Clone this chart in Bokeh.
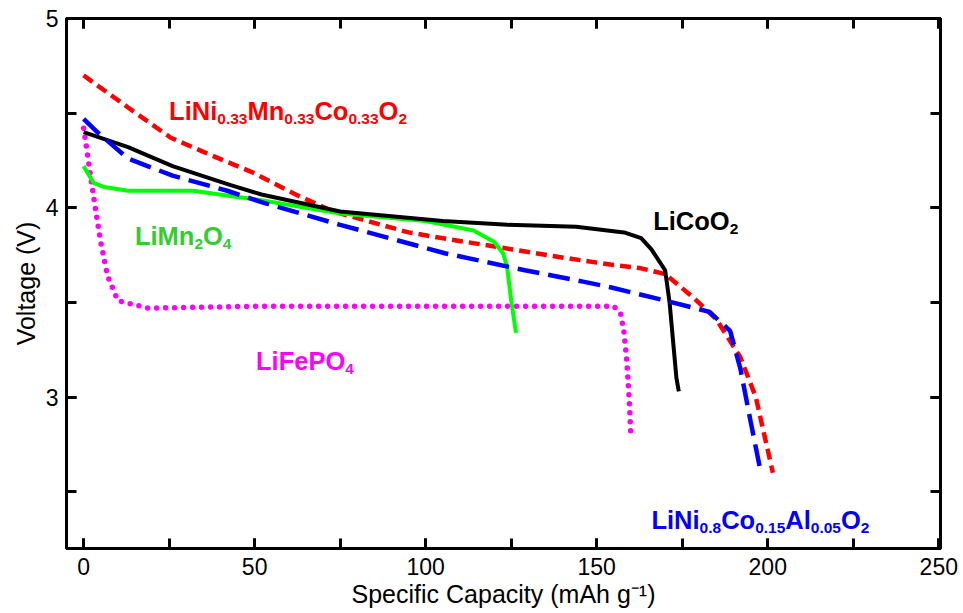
from bokeh.plotting import figure
from bokeh.models import LinearAxis, SingleIntervalTicker
from bokeh.core.properties import value
from bokeh.embed import file_html
from bokeh.resources import INLINE

# ---- data ----
nmc_cap = [0, 3, 13, 25.5, 37, 49, 62, 73, 85, 95, 104.7, 122, 139, 154, 163, 170, 178, 185, 192, 196.5, 201.5]
nmc_v = [4.70, 4.66, 4.53, 4.37, 4.28, 4.19, 4.07, 3.98, 3.92, 3.87, 3.84, 3.79, 3.74, 3.70, 3.68, 3.65, 3.53, 3.41, 3.21, 3.00, 2.60]

nca_cap = [0, 4, 13, 26, 42, 52, 75, 105.6, 129, 146, 154, 170, 183, 189, 192, 195, 198]
nca_v = [4.47, 4.40, 4.26, 4.17, 4.09, 4.03, 3.91, 3.76, 3.67, 3.61, 3.58, 3.51, 3.45, 3.35, 3.15, 2.87, 2.60]

lco_cap = [0, 13, 26, 43, 52, 75, 105, 124, 144, 158, 163, 166, 170, 171.3, 172.3, 173.3, 174.0]
lco_v = [4.40, 4.32, 4.22, 4.12, 4.07, 3.98, 3.93, 3.91, 3.90, 3.87, 3.84, 3.78, 3.67, 3.50, 3.30, 3.10, 3.03]

lmo_cap = [0, 3, 6, 13, 32, 44, 52, 75, 100, 114, 120, 122.6, 123.8, 125, 126.4]
lmo_v = [4.22, 4.13, 4.11, 4.09, 4.09, 4.06, 4.04, 3.97, 3.93, 3.88, 3.82, 3.76, 3.69, 3.51, 3.34]

lfp_cap = [0, 0.6, 2, 3.5, 5, 7, 10, 18.8, 52, 100, 150, 155, 157, 158, 158.8, 159.5, 160]
lfp_v = [4.42, 4.35, 4.17, 3.99, 3.82, 3.64, 3.51, 3.47, 3.48, 3.48, 3.48, 3.48, 3.44, 3.34, 3.19, 2.99, 2.79]

x_label = "Specific Capacity (mAh g\u207b\u00b9)"
y_label = "Voltage (V)"

# label texts: (piece, is_subscript)
nmc_label = [("LiNi", False), ("0.33", True), ("Mn", False), ("0.33", True), ("Co", False), ("0.33", True), ("O", False), ("2", True)]
lco_label = [("LiCoO", False), ("2", True)]
nca_label = [("LiNi", False), ("0.8", True), ("Co", False), ("0.15", True), ("Al", False), ("0.05", True), ("O", False), ("2", True)]
lmo_label = [("LiMn", False), ("2", True), ("O", False), ("4", True)]
lfp_label = [("LiFePO", False), ("4", True)]

FONT = "Liberation Sans"

p = figure(width=963, height=613, x_range=(-5, 250.5), y_range=(2.2, 5.0),
           output_backend="svg", toolbar_location=None,
           min_border_left=66, min_border_right=23, min_border_top=18, min_border_bottom=65,
           x_axis_label=x_label, y_axis_label=y_label)
p.grid.visible = False
p.outline_line_color = "black"
p.outline_line_width = 3
p.background_fill_color = "white"
p.border_fill_color = "white"

def style_axis(ax, labels=True):
    ax.axis_line_width = 3
    ax.axis_line_color = "black"
    ax.major_tick_in = 10
    ax.major_tick_out = 0
    ax.minor_tick_in = 10
    ax.minor_tick_out = 0
    ax.major_tick_line_width = 3
    ax.minor_tick_line_width = 3
    ax.major_tick_line_color = "black"
    ax.minor_tick_line_color = "black"
    ax.major_label_text_font = FONT
    if labels:
        ax.major_label_text_font_size = "23px"
        ax.major_label_text_color = "black"
    else:
        ax.major_label_text_font_size = "1px"
        ax.major_label_text_color = None
    ax.axis_label_text_font = FONT
    ax.axis_label_text_font_size = "25px"
    ax.axis_label_text_font_style = "normal"
    ax.axis_label_text_color = "black"

p.xaxis.ticker = SingleIntervalTicker(interval=50, num_minor_ticks=2)
p.yaxis.ticker = SingleIntervalTicker(interval=1, num_minor_ticks=2)
for ax in p.xaxis + p.yaxis:
    style_axis(ax)
p.xaxis.major_label_standoff = 9
p.xaxis.axis_label_standoff = 2
p.yaxis.major_label_standoff = 8
p.yaxis.axis_label_standoff = 3

top = LinearAxis(ticker=SingleIntervalTicker(interval=50, num_minor_ticks=2), major_label_standoff=0)
right = LinearAxis(ticker=SingleIntervalTicker(interval=1, num_minor_ticks=2), major_label_standoff=0)
style_axis(top, labels=False)
style_axis(right, labels=False)
p.add_layout(top, "above")
p.add_layout(right, "right")

# ---- curves ----
p.line(nmc_cap, nmc_v, line_color="#ff0000", line_width=4.5, line_dash="11 6")
p.line(lfp_cap, lfp_v, line_color="#ff00ff", line_width=5.5, line_dash="0 9", line_cap="round")
p.line(lmo_cap, lmo_v, line_color="#00ff00", line_width=4)
p.line(lco_cap, lco_v, line_color="black", line_width=4)
p.line(nca_cap, nca_v, line_color="#0000ff", line_width=4.5, line_dash="22 9")

# ---- labels with subscripts ----
W = {"L": 611, "i": 278, "N": 722, "M": 833, "n": 611, "C": 722, "o": 611, "O": 778,
     "F": 611, "e": 556, "P": 667, "A": 722, "l": 278, ".": 278}
for d in "0123456789":
    W[d] = 556

def add_label(x, y, parts, color, size=25.5, sub_size=15.5, drop=8):
    off = 0.0
    for txt, sub in parts:
        fs = sub_size if sub else size
        p.text(x=[x], y=[y], text=[txt], x_offset=off, y_offset=(drop if sub else 0),
               text_font=value(FONT), text_font_style="bold", text_font_size=f"{fs}px",
               text_color=color, text_align="left", text_baseline="alphabetic")
        off += sum(W.get(c, 600) for c in txt) / 1000.0 * fs

add_label(25.0, 4.51, nmc_label, "#ff0000")
add_label(166.5, 3.93, lco_label, "black")
add_label(166.0, 2.35, nca_label, "#0000ff")
add_label(15.0, 3.85, lmo_label, "#33cc33")
add_label(50.4, 3.19, lfp_label, "#ff00ff")

open("out.html", "w").write(file_html(p, INLINE))
